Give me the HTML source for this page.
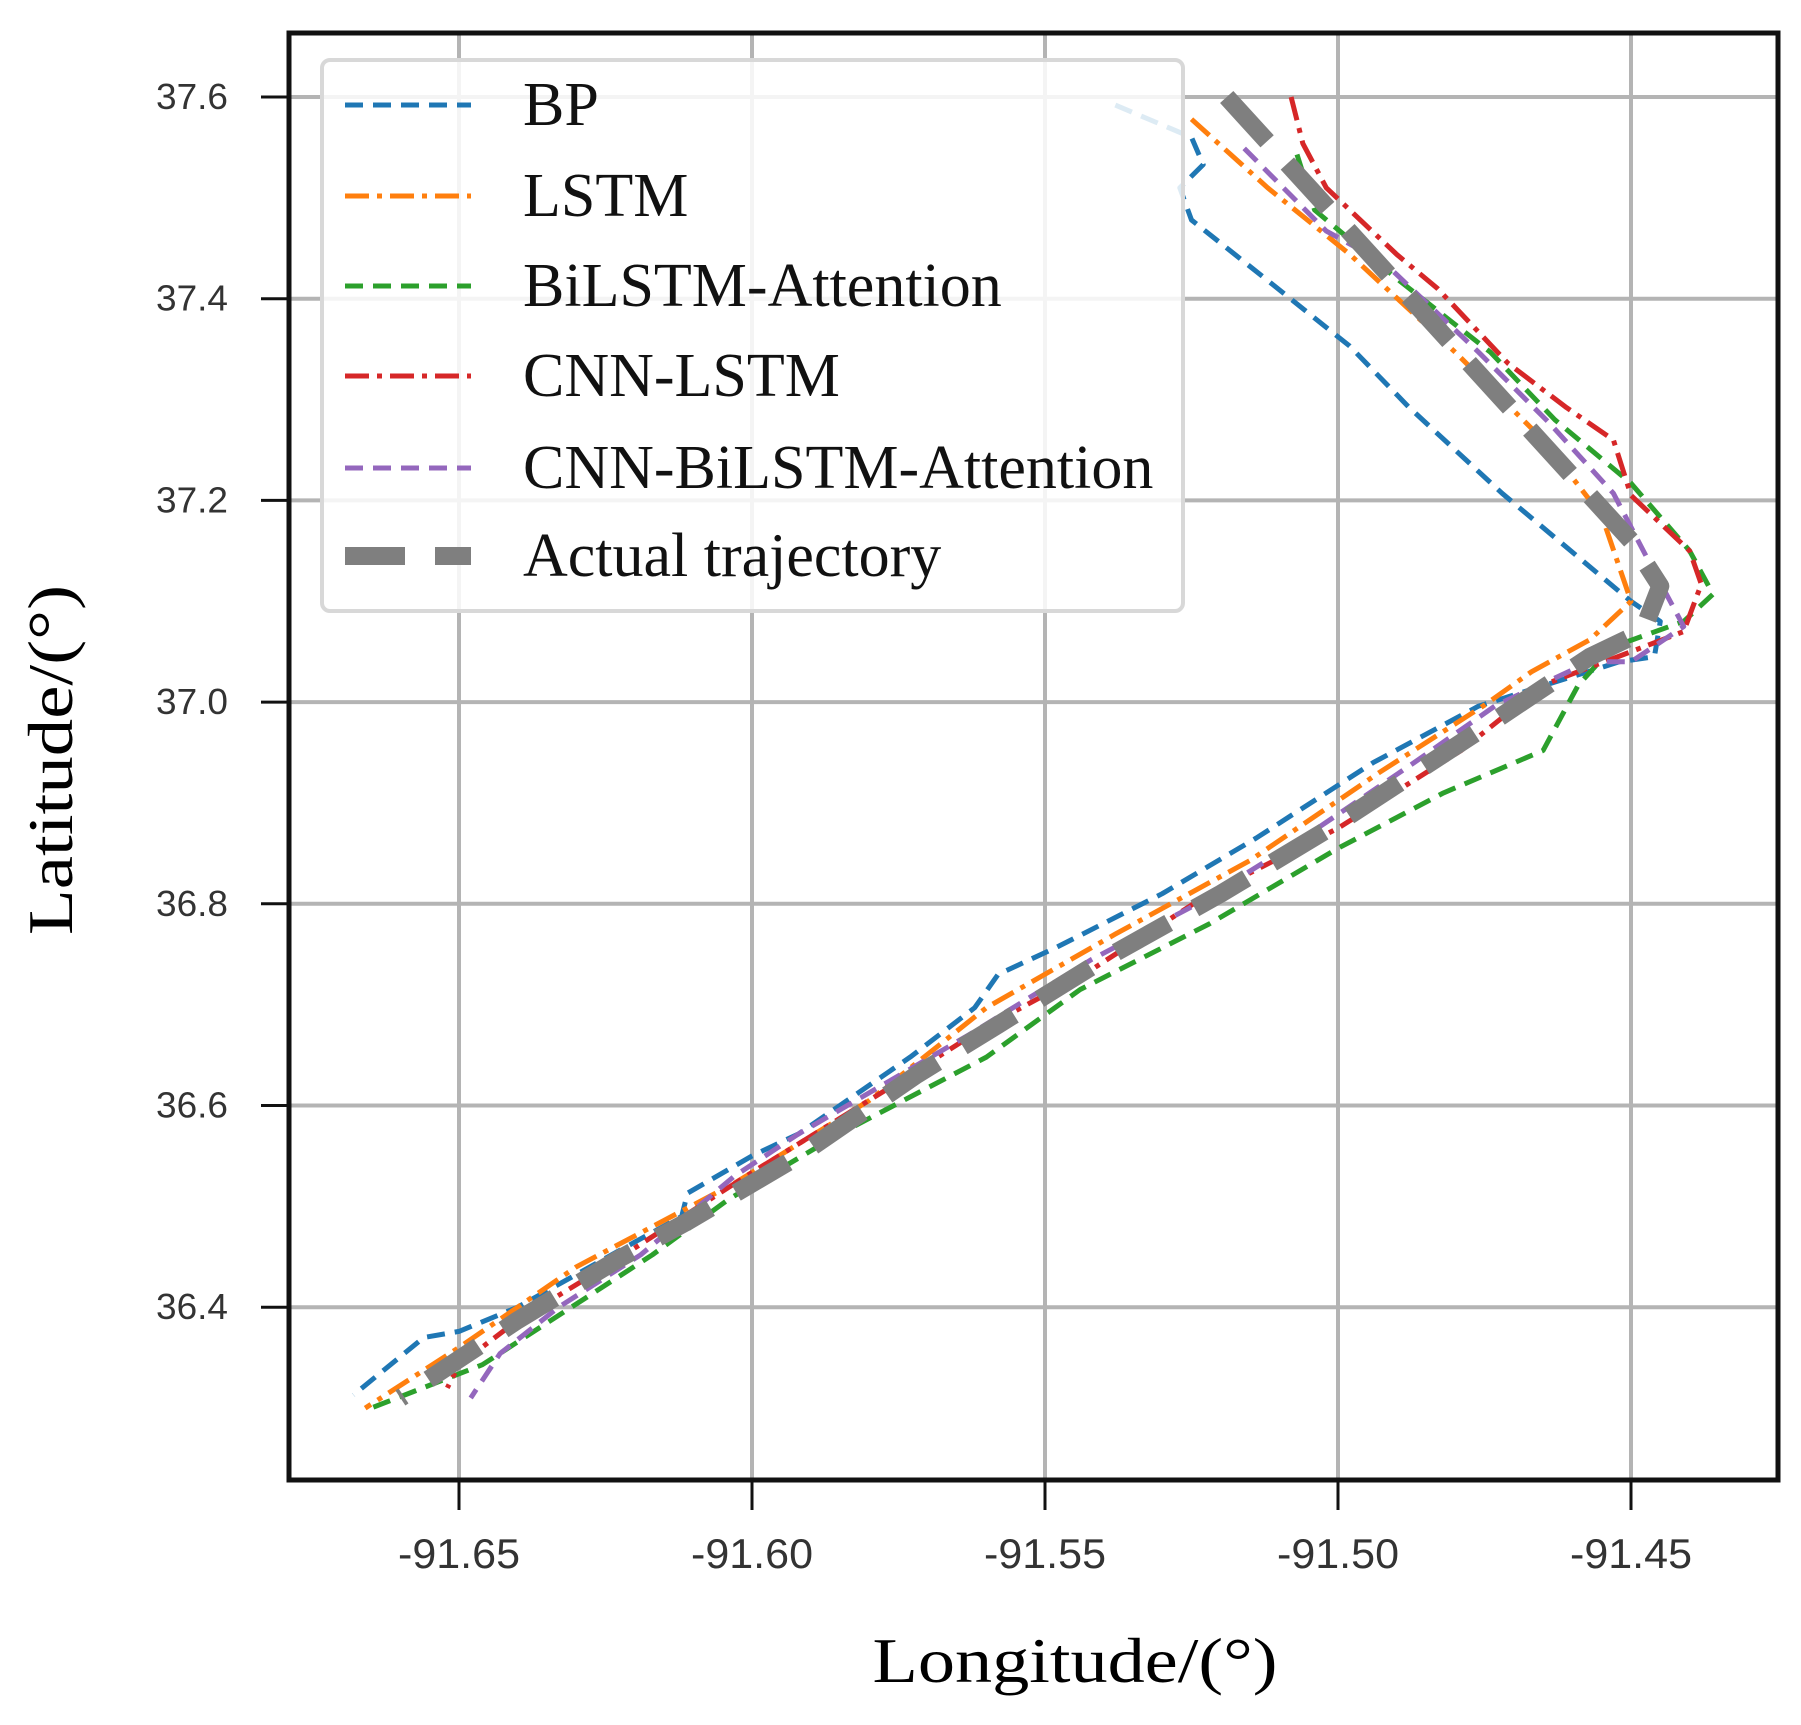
<!DOCTYPE html>
<html><head><meta charset="utf-8"><style>
html,body{margin:0;padding:0;background:#fff;}
svg{display:block;}
</style></head><body>
<svg id="chart" width="1801" height="1725" viewBox="0 0 1801 1725" xmlns="http://www.w3.org/2000/svg">
<rect width="1801" height="1725" fill="#fff"/>
<g id="grid"></g>
<g id="series"></g>
<g id="axes"></g>
<g id="legend"></g>
</svg>
<script>
const xTicks = [-91.65, -91.60, -91.55, -91.50, -91.45];
const xTickLabels = ["-91.65", "-91.60", "-91.55", "-91.50", "-91.45"];
const yTicks = [37.6, 37.4, 37.2, 37.0, 36.8, 36.6, 36.4];
const yTickLabels = ["37.6", "37.4", "37.2", "37.0", "36.8", "36.6", "36.4"];
const seriesNames = ["BP", "LSTM", "BiLSTM-Attention", "CNN-LSTM", "CNN-BiLSTM-Attention", "Actual trajectory"];

const bpLon = [-91.538,-91.525,-91.523,-91.527,-91.525,-91.512,-91.498,-91.488,-91.472,-91.450,-91.445,-91.446,-91.452,-91.476,-91.494,-91.514,-91.530,-91.548,-91.558,-91.562,-91.573,-91.592,-91.600,-91.611,-91.612,-91.623,-91.640,-91.650,-91.656,-91.668];
const bpLat = [37.592,37.560,37.533,37.510,37.478,37.418,37.353,37.293,37.207,37.100,37.080,37.045,37.040,36.996,36.940,36.865,36.810,36.757,36.730,36.697,36.648,36.572,36.550,36.513,36.490,36.455,36.400,36.376,36.370,36.313];

const lstmLon = [-91.525,-91.512,-91.498,-91.480,-91.465,-91.455,-91.450,-91.457,-91.467,-91.475,-91.493,-91.515,-91.538,-91.560,-91.580,-91.603,-91.630,-91.650,-91.666];
const lstmLat = [37.578,37.510,37.444,37.347,37.260,37.185,37.100,37.062,37.030,36.997,36.930,36.843,36.770,36.697,36.605,36.523,36.440,36.360,36.300];

const biLon = [-91.507,-91.504,-91.490,-91.474,-91.463,-91.450,-91.440,-91.436,-91.441,-91.453,-91.459,-91.465,-91.482,-91.500,-91.522,-91.544,-91.560,-91.585,-91.604,-91.617,-91.646,-91.665];
const biLat = [37.543,37.488,37.420,37.347,37.280,37.217,37.150,37.107,37.080,37.055,37.017,36.952,36.910,36.855,36.780,36.715,36.648,36.572,36.507,36.452,36.343,36.300];

const cnnLon = [-91.508,-91.506,-91.502,-91.490,-91.483,-91.471,-91.461,-91.453,-91.450,-91.440,-91.438,-91.441,-91.450,-91.465,-91.479,-91.500,-91.522,-91.542,-91.561,-91.577,-91.601,-91.625,-91.640,-91.650,-91.652];
const cnnLat = [37.600,37.554,37.510,37.444,37.410,37.336,37.292,37.260,37.205,37.150,37.117,37.070,37.050,37.017,36.952,36.875,36.810,36.735,36.675,36.616,36.530,36.440,36.387,36.343,36.320];

const cbaLon = [-91.516,-91.502,-91.492,-91.476,-91.464,-91.453,-91.447,-91.441,-91.450,-91.457,-91.473,-91.487,-91.506,-91.524,-91.542,-91.563,-91.592,-91.603,-91.619,-91.633,-91.643,-91.648];
const cbaLat = [37.549,37.467,37.435,37.347,37.277,37.207,37.140,37.075,37.040,37.040,36.997,36.940,36.865,36.800,36.745,36.670,36.572,36.530,36.452,36.400,36.354,36.310];

const actLon = [-91.519,-91.450,-91.445,-91.448,-91.457,-91.475,-91.500,-91.520,-91.540,-91.558,-91.572,-91.592,-91.611,-91.623,-91.640,-91.660];
const actLat = [37.600,37.160,37.115,37.070,37.045,36.975,36.880,36.810,36.745,36.680,36.630,36.550,36.485,36.447,36.387,36.310];

const NS = "http://www.w3.org/2000/svg";
const X0 = 289, X1 = 1778, Y0 = 33, Y1 = 1480;
function xScale(v){ return 459 + (v + 91.65) / 0.05 * 293; }
function yScale(v){ return 97 + (37.6 - v) / 0.2 * 201.7; }
function mk(tag, attrs, parent){ const e = document.createElementNS(NS, tag); for (const k in attrs) e.setAttribute(k, attrs[k]); parent.appendChild(e); return e; }

const grid = document.getElementById('grid');
const axes = document.getElementById('axes');
const sg = document.getElementById('series');
const lg = document.getElementById('legend');

xTicks.forEach((t, i) => {
  const x = xScale(t);
  const gl = mk('line', {x1:x, x2:x, y1:Y0, y2:Y1, stroke:'#b4b4b4', 'stroke-width':4}, grid);
  
  
  const tk = mk('line', {x1:x, x2:x, y1:Y1, y2:1510, stroke:'#111', 'stroke-width':3}, axes);
  
  
  const tx = mk('text', {x:x, y:1568, 'text-anchor':'middle', 'font-family':'Liberation Sans, sans-serif', 'font-size':42, fill:'#333', textLength:122, lengthAdjust:'spacingAndGlyphs'}, axes);
  tx.textContent = xTickLabels[i];
  
  
});
yTicks.forEach((t, i) => {
  const y = yScale(t);
  const gl = mk('line', {x1:X0, x2:X1, y1:y, y2:y, stroke:'#b4b4b4', 'stroke-width':4}, grid);
  
  
  const tk = mk('line', {x1:261, x2:X0, y1:y, y2:y, stroke:'#111', 'stroke-width':3}, axes);
  
  
  const tx = mk('text', {x:228, y:y+12, 'text-anchor':'end', 'font-family':'Liberation Sans, sans-serif', 'font-size':36, fill:'#333', textLength:72, lengthAdjust:'spacingAndGlyphs'}, axes);
  tx.textContent = yTickLabels[i];
  
  
});
const frame = mk('rect', {x:X0, y:Y0, width:X1-X0, height:Y1-Y0, fill:'none', stroke:'#111', 'stroke-width':5}, axes);


const xt = mk('text', {x:1075, y:1682, 'text-anchor':'middle', 'font-family':'Liberation Serif, serif', 'font-size':64, fill:'#000', textLength:405, lengthAdjust:'spacingAndGlyphs'}, axes);
xt.textContent = 'Longitude/(°)';


const yt = mk('text', {x:0, y:0, 'text-anchor':'middle', 'font-family':'Liberation Serif, serif', 'font-size':64, fill:'#000', textLength:350, lengthAdjust:'spacingAndGlyphs', transform:'translate(72,760) rotate(-90)'}, axes);
yt.textContent = 'Latitude/(°)';



const styles = [
  {lon:bpLon, lat:bpLat, color:'#1f77b4', w:5, dash:'18 10', name:'bp-line'},
  {lon:lstmLon, lat:lstmLat, color:'#ff7f0e', w:5, dash:'24 8 5 8', name:'lstm-line'},
  {lon:biLon, lat:biLat, color:'#2ca02c', w:5, dash:'18 10', name:'bilstm-attention-line'},
  {lon:cnnLon, lat:cnnLat, color:'#d62728', w:5, dash:'24 8 5 8', name:'cnn-lstm-line'},
  {lon:cbaLon, lat:cbaLat, color:'#9467bd', w:5, dash:'18 10', name:'cnn-bilstm-attention-line'},
  {lon:actLon, lat:actLat, color:'#7f7f7f', w:18, dash:'60 30', name:'actual-trajectory-line'}
];
styles.forEach(s => {
  const pts = s.lon.map((v, i) => xScale(v).toFixed(1) + ',' + yScale(s.lat[i]).toFixed(1)).join(' ');
  const pl = mk('polyline', {points:pts, fill:'none', stroke:s.color, 'stroke-width':s.w, 'stroke-dasharray':s.dash, 'stroke-linejoin':'round'}, sg);
  
  
});

const box = mk('rect', {x:322, y:60, width:861, height:551, rx:8, fill:'#fff', 'fill-opacity':0.85, stroke:'#d8d8d8', 'stroke-width':4}, lg);


const legY = [105, 196, 286, 376, 468, 556];
styles.forEach((s, i) => {
  const y = legY[i];
  const ln = mk('line', {x1:345, x2:471, y1:y, y2:y, stroke:s.color, 'stroke-width':s.w, 'stroke-dasharray':s.dash}, lg);
  
  
  const tx = mk('text', {x:523, y:y+20, 'font-family':'Liberation Serif, serif', 'font-size':62, fill:'#111'}, lg);
  tx.textContent = seriesNames[i];
  
  
});
</script>
</body></html>
